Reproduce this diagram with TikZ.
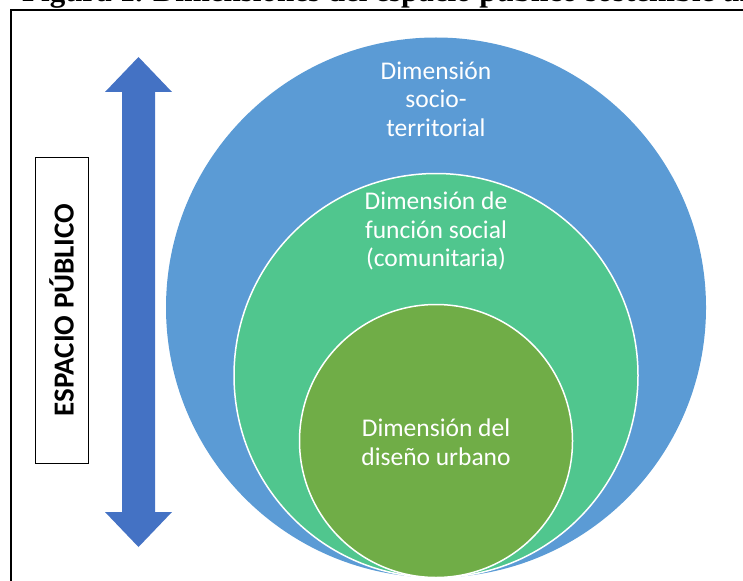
\documentclass[tikz,border=0pt]{standalone}
\usepackage{fontspec}
\setmainfont{Carlito}
\newfontfamily\titlefont{Liberation Serif}
\usepackage{tikz}
\usetikzlibrary{positioning}

\definecolor{outerblue}{HTML}{5B9BD5}
\definecolor{midgreen}{HTML}{50C68E}
\definecolor{innergreen}{HTML}{70AD47}
\definecolor{arrowblue}{HTML}{4472C4}

\tikzset{
  dimtext/.style={text=white, align=center, inner sep=0pt,
    font=\fontsize{25.5}{28.5}\selectfont},
  ring/.style={draw=white, line width=1.5pt}
}

\begin{document}
\begin{tikzpicture}[x=1pt,y=-1pt]

%%%%%%%%%%%%%%%%%%%%%%%%%%%%%%%%%%%%%%%%%%%%%%%%%%%%%%%%%%%%%%%%%%%%%%%%%%%
%	Three nested dimensions of the public space, arrow on the left       %
%%%%%%%%%%%%%%%%%%%%%%%%%%%%%%%%%%%%%%%%%%%%%%%%%%%%%%%%%%%%%%%%%%%%%%%%%%%

	\useasboundingbox (0,0) rectangle (743,580);

	%Centre line of the circles and their radii
	\pgfmathsetmacro{\cx}{436}
	\pgfmathsetmacro{\ra}{270}
	\pgfmathsetmacro{\rb}{202}
	\pgfmathsetmacro{\rc}{136.5}
	%All three circles touch at the bottom
	\pgfmathsetmacro{\bot}{577.5}

	%Arrow: centre x, half widths of shaft and head, tips and head bases
	\pgfmathsetmacro{\ax}{138.5}
	\pgfmathsetmacro{\sw}{16.5}
	\pgfmathsetmacro{\hw}{33.5}
	\pgfmathsetmacro{\ta}{57}
	\pgfmathsetmacro{\ha}{92}
	\pgfmathsetmacro{\hb}{512}
	\pgfmathsetmacro{\tb}{547}

	%Cut title and frame (kept out of the picture size)
	\begin{scope}[overlay]
	\clip (0,0) rectangle (743,580);
	\node[anchor=base west, inner sep=0pt, font=\titlefont\bfseries\fontsize{31}{31}\selectfont]
		(title) at (22,1.2) {Figura 1. Dimensiones del espacio público sostenible urbano};
	\draw[line width=1.6pt] (11,600) -- (11,10) -- (760,10);
	\end{scope}

	%Circles
	\fill[outerblue] (\cx,\bot-\ra) circle[radius=\ra];
	\filldraw[midgreen, ring] (\cx,\bot-\rb) circle[radius=\rb];
	\filldraw[innergreen, ring] (\cx,\bot-\rc) circle[radius=\rc];

	\node[dimtext] (socio) at (\cx,99) {Dimensión\\socio-\\territorial};
	\node[dimtext] (social) at (\cx,231) {Dimensión de\\función social\\(comunitaria)};
	\node[dimtext] (diseno) at (\cx,442) {Dimensión del\\diseño urbano};

	%Double arrow
	\fill[arrowblue] (\ax,\ta) -- (\ax+\hw,\ha) -- (\ax+\sw,\ha) -- (\ax+\sw,\hb)
		-- (\ax+\hw,\hb) -- (\ax,\tb) -- (\ax-\hw,\hb) -- (\ax-\sw,\hb)
		-- (\ax-\sw,\ha) -- (\ax-\hw,\ha) -- cycle;

	%Label box
	\node[draw, line width=0.8pt, minimum width=306pt, minimum height=53pt, rotate=90,
		font=\bfseries\fontsize{29}{29}\selectfont, inner sep=0pt]
		(espacio) at (61.5,310) {ESPACIO PÚBLICO};

\end{tikzpicture}
\end{document}
